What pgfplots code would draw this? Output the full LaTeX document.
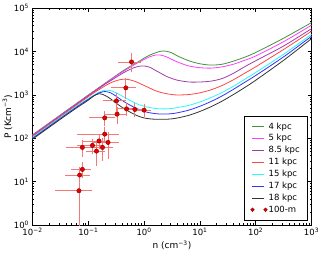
\documentclass[border=0pt]{standalone}
\usepackage{fontspec}
\setmainfont{DejaVu Sans}
\usepackage{pgfplots}
\usepackage{pgfplotstable}
\pgfplotsset{compat=1.18}
\definecolor{colg}{RGB}{60,150,60}
\definecolor{colm}{RGB}{255,60,255}
\definecolor{colp}{RGB}{160,60,170}
\definecolor{colr}{RGB}{255,70,70}
\definecolor{colc}{RGB}{40,250,250}
\definecolor{colb}{RGB}{50,50,255}
\definecolor{colk}{RGB}{50,50,50}
\definecolor{errc}{RGB}{245,120,120}

\pgfplotstableread{
n g m p r c b k
0.01 120.2 117.5 114.8 109.6 104.7 100 95.5
0.03162 346.7 338.8 331.1 316.2 302.0 288.4 275.4
0.0631 654.6 639.7 625.2 597.0 562.3 537.0 512.9
0.1 1000 977.2 955.0 912.0 831.8 794.3 758.6
0.1259 1230 1202 1175 1122 1000 955.0 955.0
0.1585 1514 1479 1445 1349 1175 1122 1072
0.1995 1862 1820 1778 1622 1288 1202 977.2
0.2512 2291 2239 2138 1905 1259 1122 812.8
0.3162 2818 2754 2570 2138 1122 933.3 645.7
0.3981 3467 3311 3090 2291 955.0 758.6 524.8
0.5012 4169 3981 3631 2291 812.8 631.0 436.5
0.631 5012 4786 4169 2138 691.8 537.0 371.5
0.7943 5888 5623 4571 1905 602.6 467.7 323.6
1 7079 6607 4677 1660 549.5 416.9 295.1
1.259 8318 7586 4365 1445 512.9 389.0 281.8
1.585 9333 8318 3715 1259 489.8 371.5 275.4
1.995 10230 8318 3162 1148 478.6 363.1 275.4
2.512 10230 7586 2692 1072 478.6 363.1 275.4
3.162 9333 6607 2399 1023 489.8 371.5 281.8
3.981 7943 5754 2188 1000 512.9 389.0 295.1
6.31 6166 4677 1995 1023 575.4 446.7 338.8
10 5248 4266 1995 1122 691.8 549.5 416.9
15.85 4898 4169 2089 1318 871.0 707.9 537.0
25.12 5129 4467 2399 1660 1148 955.0 724.4
39.81 6026 5129 3162 2239 1585 1349 1023
63.1 7413 6310 4467 3162 2291 1950 1479
100 9550 7943 6166 4467 3311 2818 2188
316.2 20420 16980 13490 11220 8710 7586 6310
1000 46770 40740 33880 29510 25120 22650 19950
}\curves

\pgfplotstableread{
n P dn dpp dpm
0.596 5790 0.225 2500 2100
0.471 1459 0.19 700 550
0.320 731 0.12 270 280
0.484 478 0.13 110 110
0.684 463 0.15 110 110
1.00 447 0.20 100 100
0.328 361 0.11 120 120
0.197 296 0.085 80 80
0.197 125 0.13 40 35
0.0783 61.7 0.035 20 20
0.1186 68.6 0.05 20 20
0.1556 87 0.07 25 25
0.1795 61.7 0.075 28 28
0.14 50.7 0.04 25 25
0.226 80.4 0.10 43 43
0.0783 19.2 0.025 6 6
0.070 14.2 0.028 5 5
0.068 6.17 0.04 6.7 6.1
}\obs

\begin{document}
\begin{tikzpicture}
\begin{axis}[
  scale only axis, width=279pt, height=216.7pt,
  xmode=log, ymode=log,
  xmin=1e-2, xmax=1e3, ymin=1, ymax=1e5,
  xtick={1e-2,1e-1,1,1e1,1e2,1e3},
  xticklabels={10\textsuperscript{−2},10\textsuperscript{−1},10\textsuperscript{0},10\textsuperscript{1},10\textsuperscript{2},10\textsuperscript{3}},
  ytick={1,1e1,1e2,1e3,1e4,1e5},
  yticklabels={10\textsuperscript{0},10\textsuperscript{1},10\textsuperscript{2},10\textsuperscript{3},10\textsuperscript{4},10\textsuperscript{5}},
  tick label style={font=\fontsize{8.5}{10}\selectfont},
  major tick length=4pt, minor tick length=2pt,
  tick style={black, line width=0.5pt},
  axis line style={line width=0.8pt},
  xlabel={n (cm\textsuperscript{−3})},
  ylabel={P (Kcm\textsuperscript{−3})},
  label style={font=\fontsize{9}{11}\selectfont},
  xlabel style={at={(axis description cs:0.5,-0.094)}, anchor=center},
  ylabel style={at={(axis description cs:-0.0896,0.5)}, anchor=center},
  legend style={at={(1,0)}, anchor=south east, xshift=-4.5pt, yshift=5pt,
    font=\fontsize{8.5}{10}\selectfont,
    inner xsep=6pt, inner ysep=5pt, row sep=1.9pt,
    nodes={inner sep=1pt, text height=6.5pt, text depth=1.5pt}},
  legend cell align=left,
  legend image code/.code={\draw[#1] (0pt,0pt) -- (12pt,0pt);},
  every axis plot/.append style={line width=0.8pt},
]
\addplot[draw=colg, smooth] table[x=n,y=g]{\curves};
\addlegendentry{4 kpc}
\addplot[draw=colm, smooth] table[x=n,y=m]{\curves};
\addlegendentry{5 kpc}
\addplot[draw=colp, smooth] table[x=n,y=p]{\curves};
\addlegendentry{8.5 kpc}
\addplot[draw=colr, smooth] table[x=n,y=r]{\curves};
\addlegendentry{11 kpc}
\addplot[draw=colc, smooth] table[x=n,y=c]{\curves};
\addlegendentry{15 kpc}
\addplot[draw=colb, smooth] table[x=n,y=b]{\curves};
\addlegendentry{17 kpc}
\addplot[draw=colk, smooth] table[x=n,y=k]{\curves};
\addlegendentry{18 kpc}
\addplot[only marks, forget plot, mark=*, mark size=2.2pt,
  mark options={fill=red!90!black, draw=red!55!black, line width=0.4pt},
  error bars/.cd, x dir=both, x explicit, y dir=both, y explicit,
  error bar style={errc, line width=0.8pt},
  error mark options={errc, mark size=2pt, line width=0.8pt}]
  table[x=n, y=P, x error=dn, y error plus=dpp, y error minus=dpm]{\obs};
\addlegendimage{legend image code/.code={
    \filldraw[fill=red!90!black, draw=red!55!black, line width=0.4pt] (0pt,0pt) circle (1.9pt);
    \filldraw[fill=red!90!black, draw=red!55!black, line width=0.4pt] (13pt,0pt) circle (1.9pt);}}
\addlegendentry{100-m}
\end{axis}
\pgfresetboundingbox
\path (-32.5pt,-27pt) rectangle (287.5pt,225pt);
\end{tikzpicture}
\end{document}
